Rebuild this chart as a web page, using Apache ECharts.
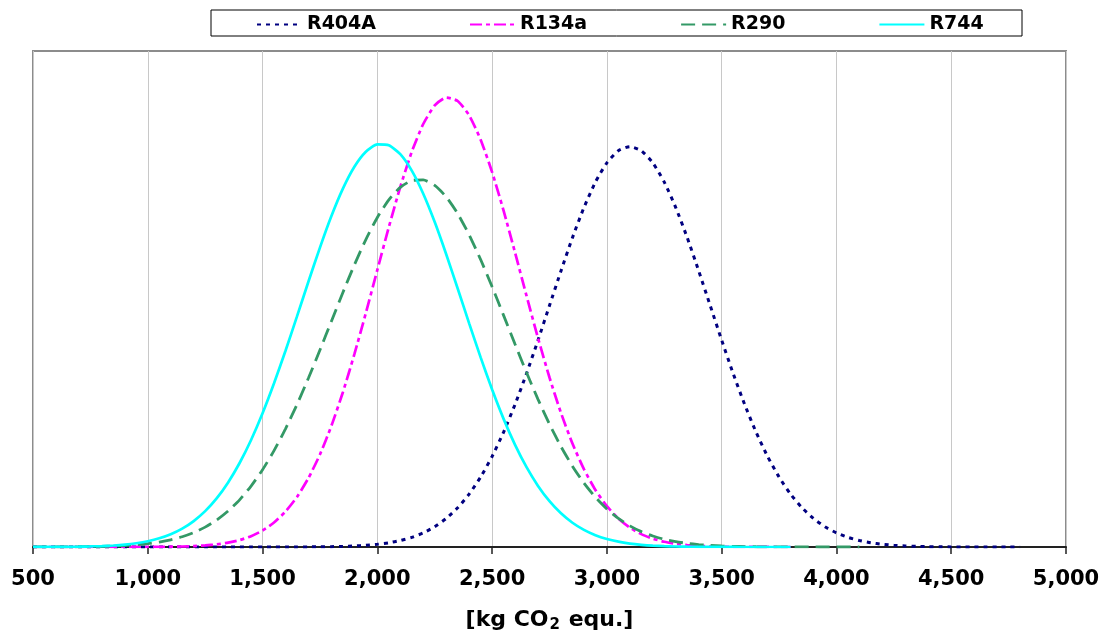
<!DOCTYPE html>
<html>
<head>
<meta charset="utf-8">
<script src="https://cdn.jsdelivr.net/npm/echarts@6/dist/echarts.min.js"></script>
<style>
  html, body { margin: 0; padding: 0; background: #fff; }
  #chart { width: 1106px; height: 631px; }
</style>
</head>
<body>
<div id="chart"></div>
<script>
// Emission sample points: kg CO2 equivalent, every 50 kg
const kg = [
   500,  550,  600,  650,  700,  750,  800,  850,  900,  950,
  1000, 1050, 1100, 1150, 1200, 1250, 1300, 1350, 1400, 1450,
  1500, 1550, 1600, 1650, 1700, 1750, 1800, 1850, 1900, 1950,
  2000, 2050, 2100, 2150, 2200, 2250, 2300, 2350, 2400, 2450,
  2500, 2550, 2600, 2650, 2700, 2750, 2800, 2850, 2900, 2950,
  3000, 3050, 3100, 3150, 3200, 3250, 3300, 3350, 3400, 3450,
  3500, 3550, 3600, 3650, 3700, 3750, 3800, 3850, 3900, 3950,
  4000, 4050, 4100, 4150, 4200, 4250, 4300, 4350, 4400, 4450,
  4500, 4550, 4600, 4650, 4700, 4750, 4800
];

// Probability density (x 1e-6 per kg) of each refrigerant, one value per kg point
const r404a = [
  0.0, 0.0, 0.0, 0.0, 0.0, 0.0, 0.0, 0.0, 0.0, 0.0,
  0.0, 0.0, 0.0, 0.0, 0.0, 0.0, 0.0, 0.0, 0.0, 0.0,
  0.0, 0.0, 0.1, 0.2, 0.3, 0.6, 1.0, 1.8, 2.9, 4.8,
  7.6, 11.8, 18.1, 27.0, 39.6, 56.8, 79.9, 110.0, 148.3, 196.0,
  253.8, 321.8, 399.7, 486.3, 579.6, 676.7, 773.7, 866.9, 951.2, 1022.5,
  1076.7, 1110.5, 1122.0, 1110.5, 1076.7, 1022.5, 951.2, 866.9, 773.7, 676.7,
  579.6, 486.3, 399.7, 321.8, 253.8, 196.0, 148.3, 110.0, 79.9, 56.8,
  39.6, 27.0, 18.1, 11.8, 7.6, 4.8, 2.9, 1.8, 1.0, 0.6,
  0.3, 0.2, 0.1, 0.0, 0.0, 0.0, 0.0
];
const r134a = [
  0.0, 0.0, 0.0, 0.0, 0.0, 0.0, 0.0, 0.0, 0.1, 0.1,
  0.2, 0.4, 0.8, 1.4, 2.5, 4.4, 7.4, 12.1, 19.4, 30.3,
  46.2, 68.6, 99.4, 140.3, 193.3, 259.4, 339.7, 433.8, 540.2, 655.7,
  776.4, 896.2, 1008.9, 1107.5, 1185.4, 1237.3, 1259.4, 1249.9, 1209.6, 1141.5,
  1050.5, 942.6, 824.8, 703.7, 585.5, 475.0, 375.7, 289.9, 218.1, 159.9,
  114.4, 79.8, 54.3, 36.0, 23.3, 14.7, 9.0, 5.4, 3.2, 1.8,
  1.0, 0.5, 0.3, 0.2, 0.1, 0.0, 0.0
];
const r290 = [
  0.1, 0.1, 0.2, 0.4, 0.6, 1.0, 1.7, 2.6, 4.1, 6.3,
  9.4, 13.9, 20.1, 28.7, 40.4, 55.7, 75.6, 100.8, 132.2, 170.7,
  216.5, 270.0, 331.1, 399.3, 473.5, 552.1, 632.8, 713.4, 790.6, 861.7,
  923.4, 972.9, 1008.0, 1026.9, 1028.6, 1013.1, 981.2, 934.3, 874.8, 805.5,
  729.1, 649.1, 568.1, 488.9, 413.8, 344.2, 281.6, 226.6, 179.2, 139.4,
  106.6, 80.2, 59.3, 43.1, 30.8, 21.7, 15.0, 10.2, 6.8, 4.5,
  2.9, 1.8, 1.2, 0.7, 0.4, 0.3, 0.2, 0.1, 0.1, 0.0,
  0.0, 0.0, 0.0
];
const r744 = [
  0.1, 0.2, 0.3, 0.5, 0.9, 1.6, 2.6, 4.2, 6.7, 10.6,
  16.2, 24.3, 35.7, 51.4, 72.7, 100.5, 136.2, 180.9, 235.4, 300.0,
  374.7, 458.7, 550.1, 646.2, 744.0, 839.1, 927.4, 1004.2, 1065.5, 1107.6,
  1128.2, 1125.8, 1100.9, 1054.7, 990.0, 910.6, 820.5, 724.4, 626.8, 531.3,
  441.3, 359.1, 286.2, 223.6, 171.2, 128.4, 94.3, 67.9, 47.9, 33.1,
  22.4, 14.9, 9.7, 6.2, 3.8, 2.4, 1.4, 0.8, 0.5, 0.3,
  0.2, 0.1, 0.0, 0.0, 0.0, 0.0, 0.0
];

const seriesNames = ['R404A', 'R134a', 'R290', 'R744'];
const xTicks = { min: 500, max: 5000, step: 500 };

const FONT = 'DejaVu Sans';

function pairs(values) {
  return values.map((v, i) => [kg[i], v]);
}

function lineSeries(name, values, color, dash, width) {
  return {
    name: name,
    type: 'line',
    data: pairs(values),
    smooth: 0.2,
    symbol: 'none',
    showSymbol: false,
    animation: false,
    lineStyle: { color: color, width: width, type: dash, cap: 'butt' },
    itemStyle: { color: color },
    emphasis: { disabled: true }
  };
}

const chart = echarts.init(document.getElementById('chart'), null, { renderer: 'canvas' });

chart.setOption({
  backgroundColor: '#ffffff',
  animation: false,
  grid: {
    left: 33, right: 40, top: 51, bottom: 84,
    outerBoundsMode: 'none',
    containLabel: false,
    show: true,
    borderColor: '#8c8c8c',
    borderWidth: 2,
    backgroundColor: '#ffffff'
  },
  graphic: [{
    type: 'rect',
    shape: { x: 211, y: 10, width: 811, height: 26 },
    style: { fill: '#ffffff', stroke: '#000000', lineWidth: 1 },
    z: 0
  }],
  legend: {
    data: seriesNames,
    left: 256,
    top: 15,
    itemWidth: 45,
    itemHeight: 14,
    itemGap: 93,
    padding: 0,
    selectedMode: false,
    itemStyle: { opacity: 0, borderWidth: 0 },
    textStyle: { fontFamily: FONT, fontWeight: 'bold', fontSize: 19, color: '#000' },
    z: 5
  },
  xAxis: {
    type: 'value',
    min: xTicks.min,
    max: xTicks.max,
    interval: xTicks.step,
    name: '[kg CO{sub|2} equ.]',
    nameLocation: 'middle',
    nameGap: 61,
    nameTextStyle: {
      fontFamily: FONT, fontWeight: 'bold', fontSize: 22, color: '#000',
      rich: {
        sub: { fontFamily: FONT, fontWeight: 'bold', fontSize: 15, color: '#000',
               verticalAlign: 'bottom', padding: [10, 1, 0, 1] }
      }
    },
    axisLine: { show: true, onZero: false, lineStyle: { color: '#222', width: 2 } },
    axisTick: { show: true, inside: false, length: 7, lineStyle: { color: '#222', width: 1.5 } },
    axisLabel: {
      margin: 22,
      fontFamily: FONT, fontWeight: 'bold', fontSize: 21, color: '#000',
      formatter: v => v.toLocaleString('en-US')
    },
    splitLine: { show: true, lineStyle: { color: '#c8c8c8', width: 1 } }
  },
  yAxis: {
    type: 'value',
    min: 0,
    max: 1390,
    show: false,
    splitLine: { show: false }
  },
  series: [
    lineSeries('R404A', r404a, '#000080', [4, 5], 3),
    lineSeries('R134a', r134a, '#ff00ff', [12, 4, 4, 4], 2.7),
    lineSeries('R290',  r290,  '#339966', [14, 7], 2.8),
    lineSeries('R744',  r744,  '#00ffff', 'solid', 2.7)
  ]
});
</script>
</body>
</html>
